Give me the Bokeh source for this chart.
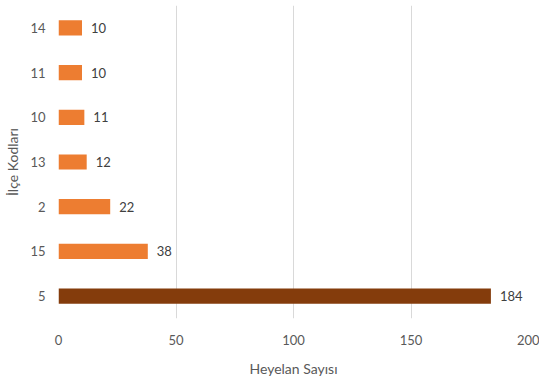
from bokeh.plotting import figure
from bokeh.models import ColumnDataSource, FactorRange, Range1d, LabelSet, FixedTicker
from bokeh.core.properties import value
from bokeh.embed import file_html
from bokeh.resources import INLINE

# District codes (bottom to top) and landslide counts
codes = ["5", "15", "2", "13", "10", "11", "14"]
counts = [184, 38, 22, 12, 11, 10, 10]
colors = ["#843C0C", "#ED7D31", "#ED7D31", "#ED7D31", "#ED7D31", "#ED7D31", "#ED7D31"]
x_ticks = [0, 50, 100, 150, 200]

FONT = "Lato"
TEXT_COLOR = "#595959"

src = ColumnDataSource(dict(code=codes, count=counts, color=colors,
                            label=[str(c) for c in counts]))

p = figure(width=539, height=385, output_backend="svg", toolbar_location=None,
           y_range=FactorRange(*codes, range_padding=0),
           x_range=Range1d(0, 200),
           min_border_left=58, min_border_right=11,
           min_border_top=5, min_border_bottom=67)

p.hbar(y="code", right="count", left=0, height=0.34, color="color",
       line_color=None, source=src)

labels = LabelSet(x="count", y="code", text="label", source=src,
                  x_offset=9, text_baseline="middle", text_align="left",
                  text_font=value(FONT), text_font_size="13px",
                  text_color="#404040")
p.add_layout(labels)

p.outline_line_color = None
p.ygrid.grid_line_color = None
p.xgrid.grid_line_color = "#D9D9D9"
p.xgrid.grid_line_width = 1
p.xaxis.ticker = FixedTicker(ticks=x_ticks)

for ax in (p.xaxis, p.yaxis):
    ax.axis_line_color = None
    ax.major_tick_line_color = None
    ax.minor_tick_line_color = None
    ax.major_tick_out = 0
    ax.minor_tick_out = 0
    ax.major_label_text_font = FONT
    ax.major_label_text_font_size = "13px"
    ax.major_label_text_color = TEXT_COLOR
    ax.axis_label_text_font = FONT
    ax.axis_label_text_font_size = "14px"
    ax.axis_label_text_font_style = "normal"
    ax.axis_label_text_color = TEXT_COLOR

p.xaxis.axis_label = "Heyelan Sayısı"
p.yaxis.axis_label = "İlçe Kodları"
p.xaxis.major_label_standoff = 16
p.xaxis.axis_label_standoff = 12
p.yaxis.major_label_standoff = 13
p.yaxis.axis_label_standoff = 6

open("out.html", "w").write(file_html(p, INLINE))
